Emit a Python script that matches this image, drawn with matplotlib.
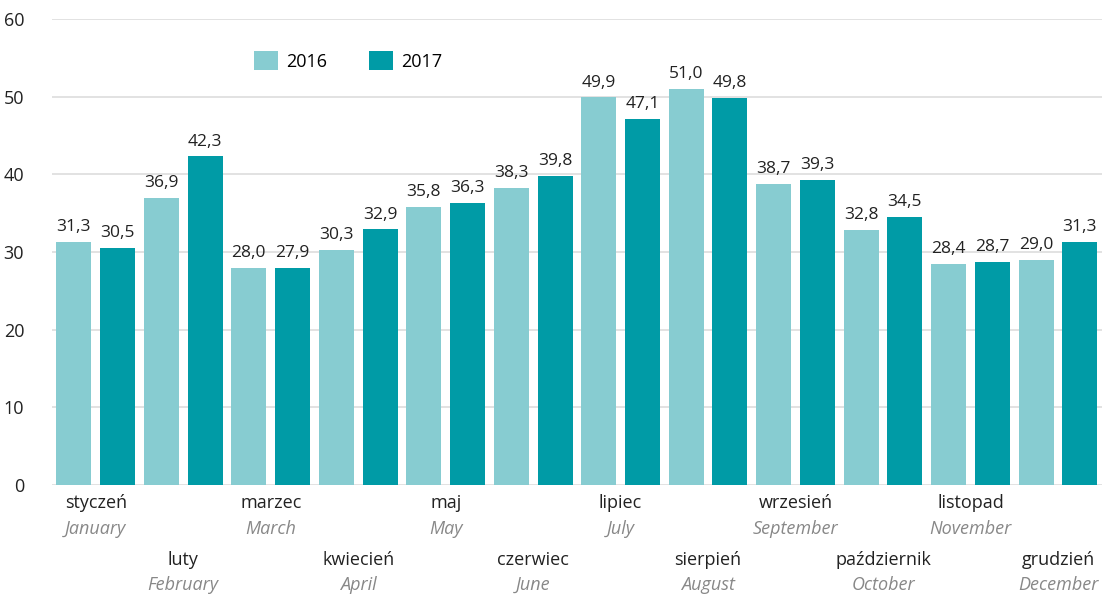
import matplotlib
matplotlib.use("Agg")
import matplotlib.pyplot as plt
import matplotlib.transforms as mtransforms
import numpy as np

months_pl = ["styczeń", "luty", "marzec", "kwiecień", "maj", "czerwiec",
             "lipiec", "sierpień", "wrzesień", "październik", "listopad", "grudzień"]
months_en = ["January", "February", "March", "April", "May", "June",
             "July", "August", "September", "October", "November", "December"]
v2016 = [31.3, 36.9, 28.0, 30.3, 35.8, 38.3, 49.9, 51.0, 38.7, 32.8, 28.4, 29.0]
v2017 = [30.5, 42.3, 27.9, 32.9, 36.3, 39.8, 47.1, 49.8, 39.3, 34.5, 28.7, 31.3]
yticks = [0, 10, 20, 30, 40, 50, 60]

plt.rcParams['font.family'] = ['Open Sans', 'DejaVu Sans']
c16 = "#87CCD1"
c17 = "#009BA6"

fig = plt.figure(figsize=(11.14, 5.94), dpi=100)
ax = fig.add_axes([0.0467, 0.1835, 0.9423, 0.7845])

x = np.arange(len(months_pl))
w = 0.4
off = 0.25
b1 = ax.bar(x - off, v2016, w, color=c16, label="2016", zorder=2)
b2 = ax.bar(x + off, v2017, w, color=c17, label="2017", zorder=2)

def fmt(v):
    return f"{v:.1f}".replace(".", ",")

for bars, vals in ((b1, v2016), (b2, v2017)):
    for r, v in zip(bars, vals):
        ax.annotate(fmt(v), (r.get_x() + r.get_width() / 2, v), xytext=(0, 5),
                    textcoords="offset points", ha="center", va="bottom",
                    fontsize=12.5, color="#222222")

ax.set_xlim(-0.5, len(months_pl) - 0.5)
ax.set_ylim(0, 60)
ax.set_yticks(yticks)
ax.set_yticklabels([str(t) for t in yticks], fontsize=13, color="#222222")
ax.tick_params(axis="y", length=0, pad=20)
ax.tick_params(axis="x", length=0)
ax.set_xticks([])
ax.grid(axis="y", color="#dddddd", linewidth=1.2, zorder=0)
for s in ax.spines.values():
    s.set_visible(False)

trans = mtransforms.blended_transform_factory(ax.transData, fig.transFigure)
for i, (pl, en) in enumerate(zip(months_pl, months_en)):
    if i % 2 == 0:
        y1, y2 = 1 - 503 / 594, 1 - 529 / 594
    else:
        y1, y2 = 1 - 560 / 594, 1 - 585 / 594
    ax.text(i, y1, pl, transform=trans, ha="center", va="center",
            fontsize=13, color="#222222")
    ax.text(i, y2, en, transform=trans, ha="center", va="center",
            fontsize=13, color="#888888", style="italic")

leg = ax.legend(loc="upper left", bbox_to_anchor=(0.177, 0.967), ncol=2,
                frameon=False, fontsize=13, handlelength=1.3, handleheight=1.3,
                columnspacing=2.3, handletextpad=0.5)

fig.savefig("out.png", dpi=100)
